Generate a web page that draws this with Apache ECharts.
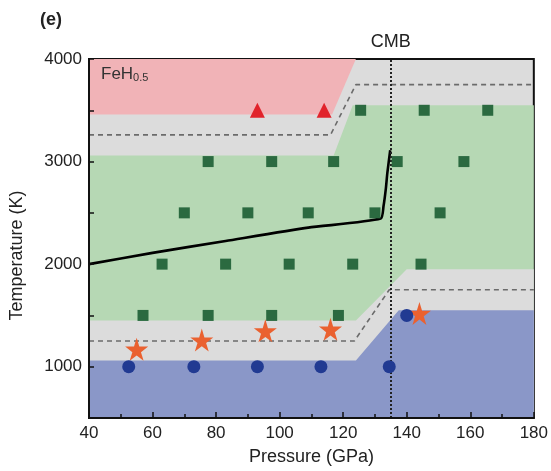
<!DOCTYPE html>
<html>
<head>
<meta charset="utf-8">
<script src="https://cdn.jsdelivr.net/npm/echarts@6/dist/echarts.min.js"></script>
<style>
	html, body { margin: 0; padding: 0; background: #fff; }
	#main { width: 551px; height: 471px; }
</style>
</head>
<body>
<div id="main"></div>
<script>
	/* phase boundaries, [P (GPa), T (K)] */
	var pinkBottom = [[40, 3460], [116.5, 3460], [124, 4000]];
	var greenTop = [[40, 3060], [117, 3060], [123, 3550], [180, 3550]];
	var greenBottom = [[40, 1450], [124, 1450], [140, 1950], [180, 1950]];
	var blueTop = [[40, 1060], [124, 1060], [137.5, 1550], [180, 1550]];
	var dashUpper = [[40, 3260], [116, 3260], [124, 3750], [180, 3750]];
	var dashLower = [[40, 1250], [123.5, 1250], [134.5, 1750], [180, 1750]];
	/* melting curve */
	var meltCurve = [[40, 2000], [60, 2110], [83, 2226], [109, 2356], [131.8, 2444],
		[132.7, 2566], [133.4, 2728], [133.9, 2890], [134.8, 3110]];
	var cmbP = 135;
	/* experiment points */
	var triangles = [[93, 3500], [114, 3500]];
	var squares = [[125.5, 3500], [145.5, 3500], [165.5, 3500],
		[77.5, 3000], [97.5, 3000], [117, 3000], [137, 3000], [158, 3000],
		[70, 2500], [90, 2500], [109, 2500], [130, 2500], [150.5, 2500],
		[63, 2000], [83, 2000], [103, 2000], [123, 2000], [144.5, 2000],
		[57, 1500], [77.5, 1500], [97.5, 1500], [118.5, 1500]];
	var stars = [[55, 1170], [75.5, 1260], [95.5, 1350], [116, 1365], [144, 1520]];
	var circles = [[52.5, 1000], [73, 1000], [93, 1000], [113, 1000], [134.5, 1000], [140, 1500]];
	var yLabels = [1000, 2000, 3000, 4000];

	var starPath = 'path://M50,0 L61,35 L98,35 L68,57 L79,91 L50,70 L21,91 L32,57 L2,35 L39,35 Z';
	var font = 'Liberation Sans, Arial, sans-serif';

	function areaSeries(data, color, origin) {
		return {
			type: 'line',
			data: data,
			symbol: 'none',
			silent: true,
			z: 1,
			lineStyle: { width: 0 },
			areaStyle: { color: color, opacity: 1, origin: origin }
		};
	}
	function dashSeries(data) {
		return {
			type: 'line',
			data: data,
			symbol: 'none',
			silent: true,
			z: 2,
			lineStyle: { color: '#6b6b6b', width: 1.6, type: [5, 4] }
		};
	}
	function scatterSeries(data, symbol, size, color) {
		return {
			type: 'scatter',
			data: data,
			symbol: symbol,
			symbolSize: size,
			z: 5,
			itemStyle: { color: color, opacity: 1 }
		};
	}

	var option = {
		backgroundColor: '#ffffff',
		animation: false,
		textStyle: { fontFamily: font },
		grid: {
			left: 88, right: 13, top: 59, bottom: 52,
			show: true,
			backgroundColor: '#dcdcdc',
			borderColor: '#111',
			borderWidth: 2
		},
		graphic: [{
			type: 'text', left: 40, top: 11, z: 100,
			style: { text: '(e)', font: 'bold 18px ' + font, fill: '#222' }
		}, {
			type: 'text', left: 101, top: 66, z: 100,
			style: {
				text: '{a|FeH}{b|0.5}',
				rich: {
					a: { fontSize: 17, fontFamily: font, fill: '#333', color: '#333' },
					b: { fontSize: 11, fontFamily: font, fill: '#333', color: '#333', padding: [7, 0, 0, 0] }
				}
			}
		}],
		xAxis: {
			type: 'value',
			min: 40, max: 180, interval: 20,
			z: 10,
			name: 'Pressure (GPa)',
			nameLocation: 'middle',
			nameGap: 30,
			nameTextStyle: { fontSize: 18, color: '#222' },
			axisLine: { onZero: false, lineStyle: { color: '#111', width: 2 } },
			axisTick: { inside: true, length: 6, lineStyle: { color: '#111', width: 1.5 } },
			minorTick: { show: true, splitNumber: 2, length: 4, lineStyle: { color: '#111', width: 1.5 } },
			axisLabel: { fontSize: 17, color: '#222', margin: 7 },
			splitLine: { show: false }
		},
		yAxis: {
			type: 'value',
			min: 500, max: 4000, interval: 500,
			z: 10,
			name: 'Temperature (K)',
			nameLocation: 'middle',
			nameGap: 63,
			nameTextStyle: { fontSize: 18, color: '#222', padding: [0, 34, 0, 0] },
			axisLine: { onZero: false, lineStyle: { color: '#111', width: 2 } },
			axisTick: { inside: true, length: 5, lineStyle: { color: '#111', width: 1.5 } },
			axisLabel: {
				fontSize: 17, color: '#222', margin: 7, customValues: yLabels,
				formatter: function(v) {
					return String(v);
				}
			},
			splitLine: { show: false }
		},
		series: [
			areaSeries(pinkBottom, '#f1b3b7', 'end'),
			areaSeries(greenTop, '#b6d8b4', 'start'),
			areaSeries(greenBottom, '#dcdcdc', 'start'),
			areaSeries(blueTop, '#8a97c8', 'start'),
			dashSeries(dashUpper),
			dashSeries(dashLower),
			{
				type: 'line',
				data: meltCurve,
				symbol: 'none',
				smooth: 0.2,
				z: 3,
				lineStyle: { color: '#000', width: 2.6 },
				markLine: {
					silent: true,
					symbol: 'none',
					lineStyle: { color: '#222', width: 2, type: 'dotted' },
					label: {
						show: true, position: 'end', formatter: 'CMB',
						fontSize: 18, color: '#222', distance: 8
					},
					data: [{ xAxis: cmbP }]
				}
			},
			scatterSeries(triangles, 'triangle', 15, '#e1232b'),
			scatterSeries(squares, 'rect', 11, '#2b6a40'),
			scatterSeries(stars, starPath, 23, '#ea6130'),
			scatterSeries(circles, 'circle', 13, '#213a92')
		]
	};

	var chart = echarts.init(document.getElementById('main'));
	chart.setOption(option);
</script>
</body>
</html>
